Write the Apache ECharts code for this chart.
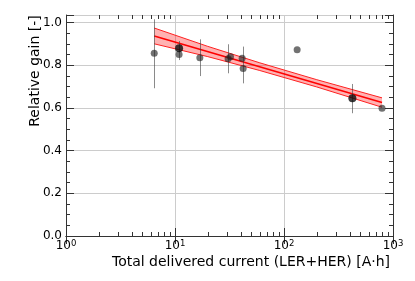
<!DOCTYPE html>
<html><head><meta charset="utf-8">
<script src="https://cdn.jsdelivr.net/npm/echarts@6/dist/echarts.min.js"></script>
<style>html,body{margin:0;padding:0;background:#fff}#c{width:415px;height:281px}</style>
</head><body><div id="c"></div>
<script>
// ---- data ----
const grayX = [6.45, 10.9, 16.9, 30.7, 32.3, 41.3, 42.2, 132, 793];
const grayY = [0.856, 0.850, 0.835, 0.830, 0.840, 0.833, 0.785, 0.872, 0.598];
const blackX = [10.9, 424];
const blackY = [0.879, 0.645];
const errX = [6.45, 10.9, 16.9, 30.7, 42.0, 424];
const errLow = [0.692, 0.824, 0.749, 0.762, 0.715, 0.575];
const errHigh = [1.015, 0.913, 0.921, 0.898, 0.887, 0.712];
const fitX = [6.45, 793];
const fitY = [0.937, 0.625];
const bandX = [6.45, 20, 60, 200, 793];
const bandUpper = [0.974, 0.888, 0.811, 0.732, 0.647];
const bandLower = [0.900, 0.840, 0.775, 0.698, 0.603];
const xMinorTicks = [2,3,4,5,6,7,8,9,20,30,40,50,60,70,80,90,200,300,400,500,600,700,800,900];
const yTickLabels = ['0.0','0.2','0.4','0.6','0.8','1.0'];
const xLabel = 'Total delivered current (LER+HER) [A\u00b7h]';
const yLabel = 'Relative gain [-]';

const FONT = 'DejaVu Sans';
const AX = '#333';
const chart = echarts.init(document.getElementById('c'), null, {renderer: 'canvas'});

function yFmt(v) {
  const k = v / 0.2;
  if (Math.abs(k - Math.round(k)) > 1e-6) return '';
  return yTickLabels[Math.round(k)] || '';
}
const yBase = {min: 0, max: 1.035, type: 'value'};

chart.setOption({
  animation: false,
  grid: {left: 66, right: 22, top: 15, bottom: 45, containLabel: false},
  xAxis: [
    {type: 'log', min: 1, max: 1000, position: 'bottom', splitNumber: 3,
     axisLine: {show: true, lineStyle: {color: AX, width: 1}},
     axisTick: {show: true, inside: true, length: 8, lineStyle: {color: AX}},
     splitLine: {show: true, lineStyle: {color: '#cccccc', width: 1}},
     axisLabel: {margin: 3, fontFamily: FONT, fontSize: 12, color: '#000',
       formatter: v => '{b|10}{s|' + Math.round(Math.log10(v)) + '}',
       rich: {b: {fontFamily: FONT, fontSize: 12, color: '#000'},
              s: {fontFamily: FONT, fontSize: 8.5, color: '#000', verticalAlign: 'top', padding: [0,0,5,0]}}}},
    {type: 'log', min: 1, max: 1000, position: 'top', splitNumber: 3,
     axisLine: {show: true, lineStyle: {color: AX, width: 1}},
     axisTick: {show: true, inside: true, length: 8, lineStyle: {color: AX}},
     splitLine: {show: false}, axisLabel: {show: false}}
  ],
  yAxis: [
    Object.assign({}, yBase, {position: 'left', interval: 0.2,
      axisLine: {show: true, lineStyle: {color: AX, width: 1}},
      axisTick: {show: true, inside: true, length: 8, lineStyle: {color: AX}},
      splitLine: {show: true, lineStyle: {color: '#cccccc', width: 1}},
      axisLabel: {margin: 4, fontFamily: FONT, fontSize: 12, color: '#000', formatter: yFmt}}),
    Object.assign({}, yBase, {position: 'left', interval: 0.05,
      axisLine: {show: false},
      axisTick: {show: true, inside: true, length: 4, lineStyle: {color: AX}},
      splitLine: {show: false}, axisLabel: {show: false}}),
    Object.assign({}, yBase, {position: 'right', interval: 0.2,
      axisLine: {show: true, lineStyle: {color: AX, width: 1}},
      axisTick: {show: true, inside: true, length: 8, lineStyle: {color: AX}},
      splitLine: {show: false}, axisLabel: {show: false}}),
    Object.assign({}, yBase, {position: 'right', interval: 0.05,
      axisLine: {show: false},
      axisTick: {show: true, inside: true, length: 4, lineStyle: {color: AX}},
      splitLine: {show: false}, axisLabel: {show: false}})
  ],
  graphic: [
    {type: 'text', x: 251, y: 262, style: {text: xLabel, fontFamily: FONT, fontSize: 14, fill: '#000',
      textAlign: 'center', textVerticalAlign: 'middle'}},
    {type: 'text', x: 35, y: 71, rotation: Math.PI / 2, style: {text: yLabel, fontFamily: FONT, fontSize: 14, fill: '#000',
      textAlign: 'center', textVerticalAlign: 'middle'}}
  ],
  series: [
    {type: 'custom', name: 'minorX', xAxisIndex: 0, yAxisIndex: 0, z: 1, silent: true, clip: false,
     data: xMinorTicks.map(v => [v, 0]),
     renderItem: (params, api) => {
       const p = api.coord([api.value(0), 0]);
       const cs = params.coordSys;
       const x = Math.round(p[0]) + 0.5;
       return {type: 'group', children: [
         {type: 'line', shape: {x1: x, y1: cs.y + cs.height, x2: x, y2: cs.y + cs.height - 4}, style: {stroke: AX, lineWidth: 1}},
         {type: 'line', shape: {x1: x, y1: cs.y, x2: x, y2: cs.y + 4}, style: {stroke: AX, lineWidth: 1}}
       ]};
     }},
    {type: 'custom', name: 'band', z: 2, silent: true,
     data: [[bandX[0], bandUpper[0]]],
     renderItem: (params, api) => {
       const up = bandX.map((x, i) => api.coord([x, bandUpper[i]]));
       const lo = bandX.map((x, i) => api.coord([x, bandLower[i]]));
       return {type: 'group', children: [
         {type: 'polygon', shape: {points: up.concat(lo.slice().reverse())}, style: {fill: 'rgba(255,0,0,0.3)'}},
         {type: 'polyline', shape: {points: up}, style: {stroke: '#ff2020', lineWidth: 1, fill: null}},
         {type: 'polyline', shape: {points: lo}, style: {stroke: '#ff2020', lineWidth: 1, fill: null}}
       ]};
     }},
    {type: 'line', name: 'fit', z: 3, symbol: 'none', silent: true,
     data: fitX.map((x, i) => [x, fitY[i]]),
     lineStyle: {color: '#ff0000', width: 1.6}},
    {type: 'custom', name: 'err', z: 4, silent: true,
     data: errX.map((x, i) => [x, errLow[i], errHigh[i]]),
     encode: {x: 0, y: [1, 2]},
     renderItem: (params, api) => {
       const a = api.coord([api.value(0), api.value(1)]);
       const b = api.coord([api.value(0), api.value(2)]);
       const x = Math.round(a[0]) + 0.5;
       return {type: 'line', shape: {x1: x, y1: a[1], x2: x, y2: b[1]}, style: {stroke: 'rgba(60,60,60,0.6)', lineWidth: 1}};
     }},
    {type: 'scatter', name: 'gray', z: 5, symbol: 'circle', symbolSize: 7,
     data: grayX.map((x, i) => [x, grayY[i]]),
     itemStyle: {color: 'rgba(35,35,35,0.8)'}},
    {type: 'scatter', name: 'black', z: 6, symbol: 'circle', symbolSize: 8,
     data: blackX.map((x, i) => [x, blackY[i]]),
     itemStyle: {color: '#0a0a0a'}}
  ]
});
</script></body></html>
